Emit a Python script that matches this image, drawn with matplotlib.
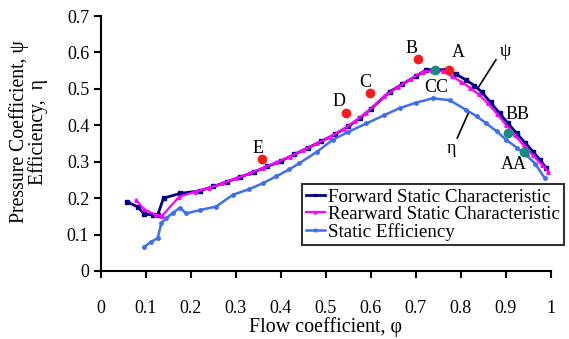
import matplotlib.pyplot as plt
import numpy as np

plt.rcParams['font.family'] = ['Liberation Serif', 'DejaVu Serif']

# forward static characteristic
fwd_phi = [0.058, 0.083, 0.096, 0.115, 0.126, 0.139, 0.176, 0.219, 0.25, 0.28, 0.31, 0.34, 0.37,
           0.40, 0.43, 0.46, 0.49, 0.52, 0.55, 0.575, 0.60, 0.642, 0.67, 0.70, 0.723, 0.745, 0.768,
           0.79, 0.812, 0.83, 0.846, 0.866, 0.886, 0.905, 0.924, 0.943, 0.961, 0.976, 0.99]
fwd_psi = [0.190, 0.175, 0.156, 0.154, 0.154, 0.200, 0.213, 0.220, 0.232, 0.245, 0.258, 0.272, 0.287,
           0.302, 0.320, 0.338, 0.356, 0.375, 0.397, 0.419, 0.445, 0.492, 0.513, 0.535, 0.552, 0.553, 0.552,
           0.540, 0.524, 0.509, 0.492, 0.463, 0.433, 0.405, 0.378, 0.352, 0.327, 0.305, 0.282]

# rearward static characteristic
rwd_phi = [0.078, 0.096, 0.122, 0.136, 0.174, 0.21, 0.24, 0.27, 0.30, 0.33, 0.36, 0.39, 0.42, 0.45,
           0.48, 0.51, 0.54, 0.565, 0.59, 0.63, 0.66, 0.69, 0.715, 0.735, 0.76, 0.78, 0.80, 0.82, 0.84,
           0.86, 0.88, 0.90, 0.92, 0.94, 0.96, 0.98, 0.994]
rwd_psi = [0.195, 0.169, 0.154, 0.152, 0.204, 0.218, 0.228, 0.241, 0.254, 0.268, 0.283, 0.298, 0.314, 0.332,
           0.350, 0.369, 0.390, 0.412, 0.435, 0.480, 0.505, 0.528, 0.547, 0.550, 0.548, 0.535, 0.520, 0.503, 0.485,
           0.460, 0.432, 0.402, 0.372, 0.345, 0.318, 0.292, 0.273]

# static efficiency
eff_phi = [0.095, 0.111, 0.126, 0.134, 0.145, 0.160, 0.176, 0.189, 0.219, 0.256, 0.293, 0.33, 0.36, 0.39,
           0.419, 0.441, 0.48, 0.515, 0.55, 0.59, 0.63, 0.664, 0.70, 0.738, 0.775, 0.812, 0.835, 0.857,
           0.88, 0.901, 0.925, 0.946, 0.965, 0.987]
eff_eta = [0.065, 0.080, 0.090, 0.131, 0.145, 0.160, 0.174, 0.158, 0.167, 0.177, 0.209, 0.225, 0.241, 0.260,
           0.279, 0.296, 0.327, 0.360, 0.382, 0.405, 0.428, 0.447, 0.462, 0.474, 0.469, 0.442, 0.425, 0.405,
           0.383, 0.360, 0.338, 0.318, 0.295, 0.254]

# marked operating points
red_pts = {'E': (0.357, 0.307), 'D': (0.544, 0.434), 'C': (0.597, 0.489), 'B': (0.704, 0.582), 'A': (0.773, 0.552)}
teal_pts = {'CC': (0.742, 0.552), 'BB': (0.905, 0.378), 'AA': (0.940, 0.327)}

fig = plt.figure(figsize=(5.69, 3.39), dpi=100)
ax = fig.add_axes([0.1775, 0.2006, 0.7905, 0.7522])

ax.plot(fwd_phi, fwd_psi, color='#000080', lw=2, marker='s', ms=2.5, label='Forward Static Characteristic', zorder=3)
ax.plot(rwd_phi, rwd_psi, color='#FF00FF', lw=1.6, marker='^', ms=2.5, label='Rearward Static Characteristic', zorder=4)
ax.plot(eff_phi, eff_eta, color='#3F6FEF', lw=1.8, marker='o', ms=2.5, label='Static Efficiency', zorder=3)

for k, (x, y) in red_pts.items():
    ax.plot(x, y, 'o', color='#FF1A1A', ms=6, zorder=5)
for k, (x, y) in teal_pts.items():
    ax.plot(x, y, 'o', color='#1A8A80', ms=6, zorder=5)

fs = 13
ax.text(0.35, 0.325, 'E', fontsize=fs, ha='center')
ax.text(0.53, 0.452, 'D', fontsize=fs, ha='center')
ax.text(0.588, 0.505, 'C', fontsize=fs, ha='center')
ax.text(0.69, 0.598, 'B', fontsize=fs, ha='center')
ax.text(0.795, 0.587, 'A', fontsize=fs, ha='center')
ax.text(0.746, 0.49, 'CC', fontsize=fs, ha='center')
ax.text(0.925, 0.418, 'BB', fontsize=fs, ha='center')
ax.text(0.918, 0.28, 'AA', fontsize=fs, ha='center')
ax.text(0.9, 0.59, 'ψ', fontsize=fs, ha='center')
ax.text(0.78, 0.325, 'η', fontsize=fs, ha='center')
ax.plot([0.878, 0.84], [0.58, 0.506], color='black', lw=1.2)
ax.plot([0.818, 0.792], [0.437, 0.365], color='black', lw=1.2)

ax.set_xlim(0, 1)
ax.set_ylim(0, 0.7)
ax.set_xticks(np.arange(0, 1.01, 0.1))
ax.set_xticklabels(['0', '0.1', '0.2', '0.3', '0.4', '0.5', '0.6', '0.7', '0.8', '0.9', '1'])
ax.set_yticks(np.arange(0, 0.71, 0.1))
ax.set_yticklabels(['0', '0.1', '0.2', '0.3', '0.4', '0.5', '0.6', '0.7'])
ax.tick_params(labelsize=fs, width=1.5, length=5, direction='out')
ax.tick_params(axis='x', pad=16)
ax.spines['top'].set_visible(False)
ax.spines['right'].set_visible(False)
ax.spines['left'].set_linewidth(1.5)
ax.spines['bottom'].set_linewidth(1.5)

ax.set_xlabel('Flow coefficient, φ', fontsize=14.4, labelpad=0)
ax.set_ylabel('Pressure Coefficient, ψ\nEfficiency,  η', fontsize=14.2, linespacing=0.95)
ax.yaxis.set_label_coords(-0.118, 0.545)

leg = fig.legend(loc='upper left', bbox_to_anchor=(0.531, 0.456), fontsize=13.7, frameon=True, fancybox=False,
                 edgecolor='black', handlelength=1.0, handletextpad=0.15, labelspacing=0.0,
                 borderpad=0.2, borderaxespad=0, markerscale=0.8)
leg.get_frame().set_linewidth(1.5)

fig.savefig('out.png', dpi=100)
